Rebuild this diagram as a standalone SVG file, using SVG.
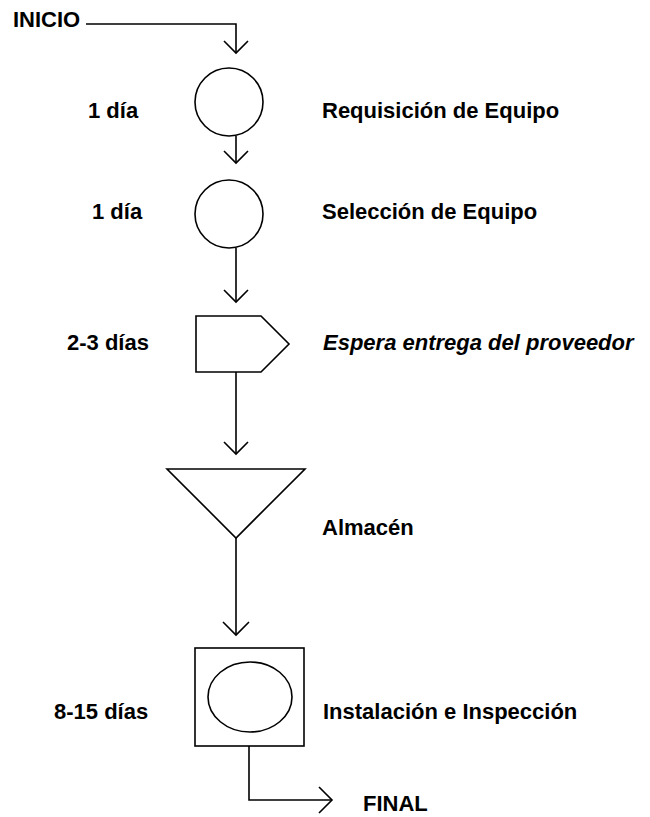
<svg xmlns="http://www.w3.org/2000/svg" width="650" height="817" viewBox="0 0 650 817">
<style>
.s{fill:none;stroke:#000;stroke-width:1.6;stroke-linejoin:miter}
.t{font-family:"Liberation Sans",Arial,sans-serif;font-weight:bold;font-size:22px;fill:#000}
.i{font-style:italic}
</style>
<rect width="650" height="817" fill="#fff"/>
<g id="connectors" class="s">
<path d="M86,24 H236 V53"/><path d="M224,41 L236,53 L248,41"/>
<path d="M236,136 V163"/><path d="M224,151 L236,163 L248,151"/>
<path d="M236,248 V302"/><path d="M224,290 L236,302 L248,290"/>
<path d="M236,372 V454"/><path d="M224,442 L236,454 L248,442"/>
<path d="M236,538 V635"/><path d="M223,622 L236,635 L249,622"/>
<path d="M249,746 V800 H332"/><path d="M319,787 L332,800 L319,813"/>
</g>
<g id="inicio"><text class="t" x="13" y="27">INICIO</text></g>
<g id="requisicion">
<circle class="s" cx="229" cy="102" r="34"/>
<text class="t" x="88" y="118">1 día</text>
<text class="t" x="322" y="118">Requisición de Equipo</text>
</g>
<g id="seleccion">
<circle class="s" cx="229" cy="214" r="34"/>
<text class="t" x="92" y="219">1 día</text>
<text class="t" x="322" y="219">Selección de Equipo</text>
</g>
<g id="espera">
<path class="s" d="M196,316 H261 L289,344 L261,372 H196 Z"/>
<text class="t" x="67" y="350">2-3 días</text>
<text class="t i" x="323" y="350">Espera entrega del proveedor</text>
</g>
<g id="almacen">
<path class="s" d="M167,469 H305 L236,538 Z"/>
<text class="t" x="322" y="535">Almacén</text>
</g>
<g id="instalacion">
<rect class="s" x="195" y="648" width="109" height="98"/>
<ellipse class="s" cx="250" cy="697" rx="42" ry="35"/>
<text class="t" x="54" y="719">8-15 días</text>
<text class="t" x="323" y="719">Instalación e Inspección</text>
</g>
<g id="final"><text class="t" x="363" y="811">FINAL</text></g>
</svg>
